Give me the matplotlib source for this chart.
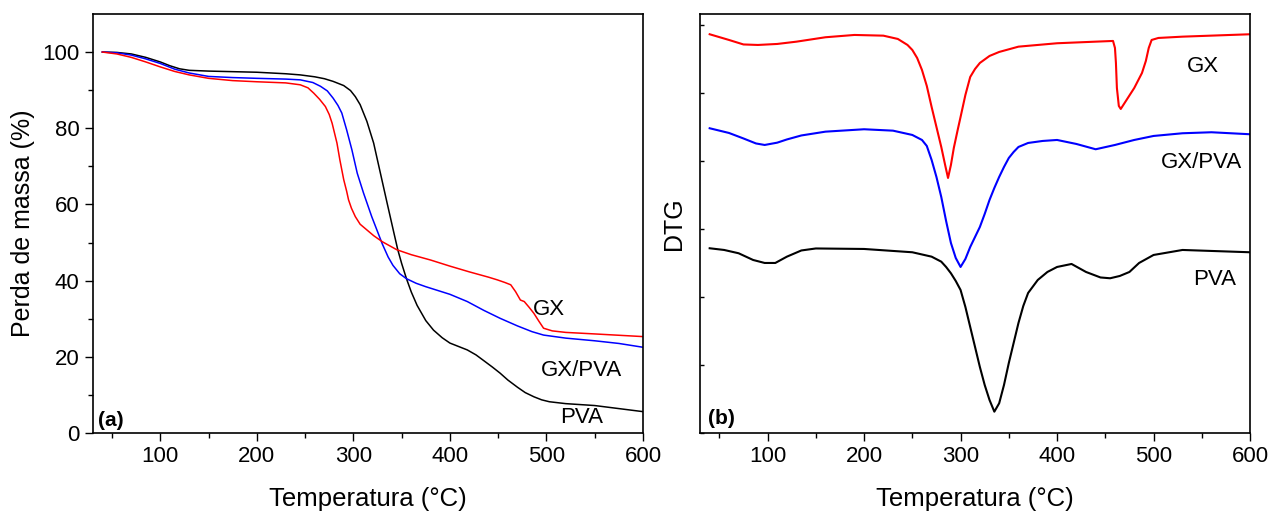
import numpy as np
import matplotlib
matplotlib.use("Agg")
import matplotlib.pyplot as plt

plt.rcParams["font.family"] = ["Liberation Sans", "DejaVu Sans"]

# ---------------- TGA (a) ----------------
t_pva = [40, 55, 70, 85, 100, 110, 120, 130, 150, 200, 230, 245, 260, 270, 279, 290, 297,
         302, 307, 314, 321, 328, 335, 342, 346, 350, 355, 360, 366, 375, 383, 392, 400,
         410, 418, 427, 435, 444, 452, 460, 470, 478, 487, 495, 503, 520, 550, 575, 600]
m_pva = [100, 99.9, 99.5, 98.6, 97.4, 96.4, 95.6, 95.2, 95.0, 94.7, 94.3, 94.0, 93.5, 93.0,
         92.3, 91.2, 89.9, 88.3, 86.2, 81.8, 76.1, 68.2, 60.3, 52.5, 48.1, 44.5, 40.5, 37.0,
         33.5, 29.5, 27.0, 25.0, 23.6, 22.6, 21.8, 20.5, 19.0, 17.3, 15.7, 13.9, 12.0, 10.6,
         9.5, 8.7, 8.2, 7.7, 7.2, 6.4, 5.6]

t_blend = [40, 55, 70, 85, 100, 115, 130, 150, 175, 200, 230, 245, 258, 266, 273, 279, 284,
           288, 293, 298.5, 304, 310.5, 319, 330, 336, 341, 348, 355, 365, 375, 390, 400,
           418, 435, 452, 470, 485, 497, 520, 550, 575, 600]
m_blend = [100, 99.8, 99.2, 98.2, 97.0, 95.5, 94.5, 93.6, 93.3, 93.1, 92.9, 92.7, 92.0, 91.0,
           89.8, 87.9, 86.0, 84.0, 79.6, 74.3, 68.2, 63.0, 56.8, 49.6, 46.2, 44.0, 41.8, 40.5,
           39.3, 38.4, 37.2, 36.4, 34.5, 32.2, 30.1, 28.1, 26.6, 25.7, 24.9, 24.2, 23.5, 22.5]

t_gx = [40, 55, 70, 85, 100, 115, 130, 150, 175, 200, 230, 245, 253, 259, 265, 271, 275,
        278, 283, 286, 290, 293, 295, 298, 302, 307, 314, 321, 330, 345, 360, 380, 400, 420,
        440, 449, 457, 463, 468, 473, 477, 482, 487, 492, 497, 506, 520, 550, 600]
m_gx = [100, 99.5, 98.6, 97.4, 96.1, 94.9, 94.0, 93.1, 92.5, 92.2, 91.9, 91.4, 90.6, 89.2,
        87.6, 85.7, 83.6, 81.3, 76.1, 71.7, 66.5, 63.5, 61.2, 59.0, 56.8, 54.8, 53.3, 51.8,
        50.2, 48.1, 46.8, 45.4, 43.8, 42.3, 40.9, 40.2, 39.5, 38.9, 37.1, 34.9, 34.5, 33.0,
        31.4, 29.4, 27.5, 26.8, 26.4, 26.0, 25.3]

# ---------------- DTG (b), arbitrary units ----------------
t_dtg_gx = [40, 60, 75, 90, 110, 130, 160, 190, 220, 235, 245, 250, 255, 260, 265, 270, 275,
            280, 284, 287, 290, 293, 297, 300, 305, 310, 315, 320, 330, 340, 360, 400, 440,
            458, 460, 461, 462, 464, 466, 468, 472, 480, 488, 492, 495, 498, 505, 530, 600]
d_dtg_gx = [398.7, 393, 388.5, 388, 389, 391.3, 395.7, 398, 397.3, 394, 388, 383, 375, 363,
            347, 326, 306, 286, 268, 255, 268, 285, 303, 316, 338, 356, 364, 370, 377, 381,
            386.3, 389.7, 391.3, 392, 385, 370, 345, 327, 324, 327, 333, 345, 360, 372, 385,
            393, 395, 396.3, 398.7]

t_dtg_blend = [40, 60, 75, 88, 97, 110, 120, 135, 160, 200, 230, 250, 260, 265, 270, 275,
               280, 285, 290, 295, 300, 305, 310, 315, 320, 325, 330, 335, 340, 345, 350,
               355, 360, 370, 385, 400, 420, 440, 460, 480, 500, 530, 560, 600]
d_dtg_blend = [304.7, 300, 294.5, 289.5, 288, 290.3, 293.5, 297.5, 301.3, 303.7, 302.3, 298,
               293, 287, 273, 256, 236, 212, 190, 175, 166, 174, 186, 196, 206, 219, 233, 245,
               256, 266, 275, 281, 286, 290, 292, 293, 289, 283.7, 288, 293, 297, 299.7,
               300.7, 298.7]

t_dtg_pva = [40, 55, 70, 85, 97, 108, 120, 135, 150, 200, 250, 270, 280, 285, 290, 295, 300,
             305, 310, 315, 320, 325, 330, 335, 340, 345, 350, 355, 360, 365, 370, 380, 390,
             400, 415, 430, 445, 455, 465, 475, 485, 500, 530, 600]
d_dtg_pva = [184.7, 183, 179.7, 173, 170, 170, 176.3, 182.5, 184.5, 184, 180.7, 176.3, 171.3,
             166, 159.7, 152, 143, 126, 106, 86, 66, 48, 33, 21.3, 29.7, 48, 70, 90, 110, 127,
             140, 153, 161, 166, 169, 161, 155.5, 154.7, 157, 161, 170, 178, 183, 180.7]

RED, BLUE, BLACK = "#ff0000", "#0000ff", "#000000"

fig = plt.figure(figsize=(12.7, 5.13), dpi=100)
ax1 = fig.add_axes([0.073, 0.156, 0.4333, 0.8168])
ax2 = fig.add_axes([0.5512, 0.156, 0.4331, 0.8168])

# ----- panel (a) -----
ax1.plot(t_pva, m_pva, color=BLACK, lw=1.1)
ax1.plot(t_blend, m_blend, color=BLUE, lw=1.1)
ax1.plot(t_gx, m_gx, color=RED, lw=1.1)
ax1.set_xlim(30, 600)
ax1.set_ylim(0, 110)
ax1.set_xticks([100, 200, 300, 400, 500, 600])
ax1.set_xticks(np.arange(50, 600, 100), minor=True)
ax1.set_yticks([0, 20, 40, 60, 80, 100])
ax1.set_yticks(np.arange(10, 110, 20), minor=True)
ax1.tick_params(which="major", direction="out", length=6, width=1.0, labelsize=16)
ax1.tick_params(which="minor", direction="out", length=3.5, width=1.0)
ax1.set_xlabel("Temperatura (°C)", fontsize=18.5, labelpad=14)
ax1.set_ylabel("Perda de massa (%)", fontsize=18)
ax1.yaxis.set_label_coords(-0.105, 0.5)
ax1.text(486, 32.3, "GX", fontsize=16, va="center")
ax1.text(493.7, 16.5, "GX/PVA", fontsize=16, va="center")
ax1.text(514, 4.0, "PVA", fontsize=16, va="center")
ax1.text(35.5, 0.8, "(a)", fontsize=15, fontweight="bold", va="bottom")

# ----- panel (b) -----
ax2.plot(t_dtg_gx, d_dtg_gx, color=RED, lw=1.5)
ax2.plot(t_dtg_blend, d_dtg_blend, color=BLUE, lw=1.5)
ax2.plot(t_dtg_pva, d_dtg_pva, color=BLACK, lw=1.5)
ax2.set_xlim(30, 600)
ax2.set_ylim(0, 419)
ax2.set_xticks([100, 200, 300, 400, 500, 600])
ax2.set_xticks(np.arange(50, 600, 100), minor=True)
ax2.set_yticks(np.arange(0, 420, 68))
ax2.tick_params(axis="x", which="major", direction="out", length=6, width=1.0, labelsize=16)
ax2.tick_params(axis="x", which="minor", direction="out", length=3.5, width=1.0)
ax2.tick_params(axis="y", direction="in", length=3, width=1.0, labelleft=False)
ax2.set_xlabel("Temperatura (°C)", fontsize=18.5, labelpad=14)
ax2.set_ylabel("DTG", fontsize=18)
ax2.yaxis.set_label_coords(-0.025, 0.5)
ax2.text(534.7, 366, "GX", fontsize=16, va="center")
ax2.text(507.8, 270, "GX/PVA", fontsize=16, va="center")
ax2.text(541, 153, "PVA", fontsize=16, va="center")
ax2.text(37.8, 5, "(b)", fontsize=15, fontweight="bold", va="bottom")

for ax in (ax1, ax2):
    for s in ax.spines.values():
        s.set_linewidth(1.2)

fig.savefig("out.png", dpi=100)
